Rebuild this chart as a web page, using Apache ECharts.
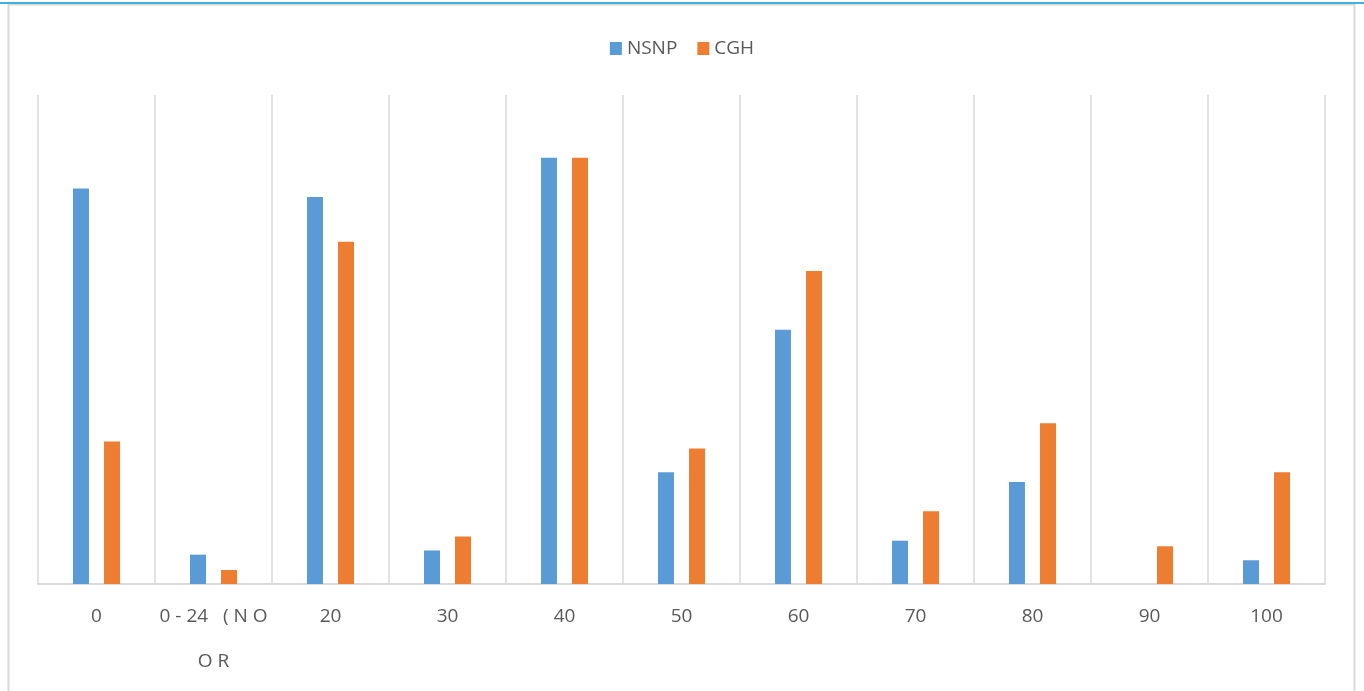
<!DOCTYPE html>
<html>
<head>
<meta charset="utf-8">
<script src="https://cdn.jsdelivr.net/npm/echarts@6/dist/echarts.min.js"></script>
<style>
html,body{margin:0;padding:0;background:#fff;}
#chart{width:1364px;height:691px;}
</style>
</head>
<body>
<div id="chart"></div>
<script>
const categories = ['0', '0 - 24   ( N O\nO R', '20', '30', '40', '50', '60', '70', '80', '90', '100'];
const seriesNames = ['NSNP', 'CGH'];
const nsnp = [28.3, 2.1, 27.7, 2.4, 30.5, 8.0, 18.2, 3.1, 7.3, 0, 1.7];
const cgh = [10.2, 1.0, 24.5, 3.4, 30.5, 9.7, 22.4, 5.2, 11.5, 2.7, 8.0];
const yMax = 35;

const chart = echarts.init(document.getElementById('chart'));
chart.setOption({
  backgroundColor: '#ffffff',
  animation: false,
  textStyle: { fontFamily: 'Open Sans', color: '#595959' },
  graphic: [
    { type: 'rect', shape: { x: 8.5, y: 4.5, width: 1346, height: 700 }, style: { fill: 'none', stroke: '#d9d9d9', lineWidth: 2 }, silent: true },
    { type: 'line', shape: { x1: 0, y1: 3, x2: 1364, y2: 3 }, style: { stroke: '#41afe0', lineWidth: 2 }, silent: true }
  ],
  legend: {
    top: 34,
    left: 'center',
    itemWidth: 12,
    itemHeight: 13,
    itemGap: 20,
    icon: 'rect',
    textStyle: { fontFamily: 'Open Sans', fontSize: 19, color: '#595959' },
    data: seriesNames
  },
  grid: { left: 38, right: 39, top: 95, bottom: 107 },
  xAxis: {
    type: 'category',
    data: categories,
    boundaryGap: true,
    axisLine: { show: true, lineStyle: { color: '#d9d9d9', width: 2 } },
    axisTick: { show: false },
    splitLine: { show: true, lineStyle: { color: '#d9d9d9', width: 1.5 } },
    axisLabel: {
      interval: 0,
      margin: 10,
      fontFamily: 'Open Sans',
      fontSize: 19,
      lineHeight: 45,
      color: '#595959'
    }
  },
  yAxis: {
    type: 'value',
    min: 0,
    max: yMax,
    show: false,
    splitLine: { show: false }
  },
  series: [
    { name: seriesNames[0], type: 'bar', data: nsnp, barWidth: 16, barGap: '94%', itemStyle: { color: '#5b9bd5' } },
    { name: seriesNames[1], type: 'bar', data: cgh, barWidth: 16, barGap: '94%', itemStyle: { color: '#ed7d31' } }
  ]
});
</script>
</body>
</html>
